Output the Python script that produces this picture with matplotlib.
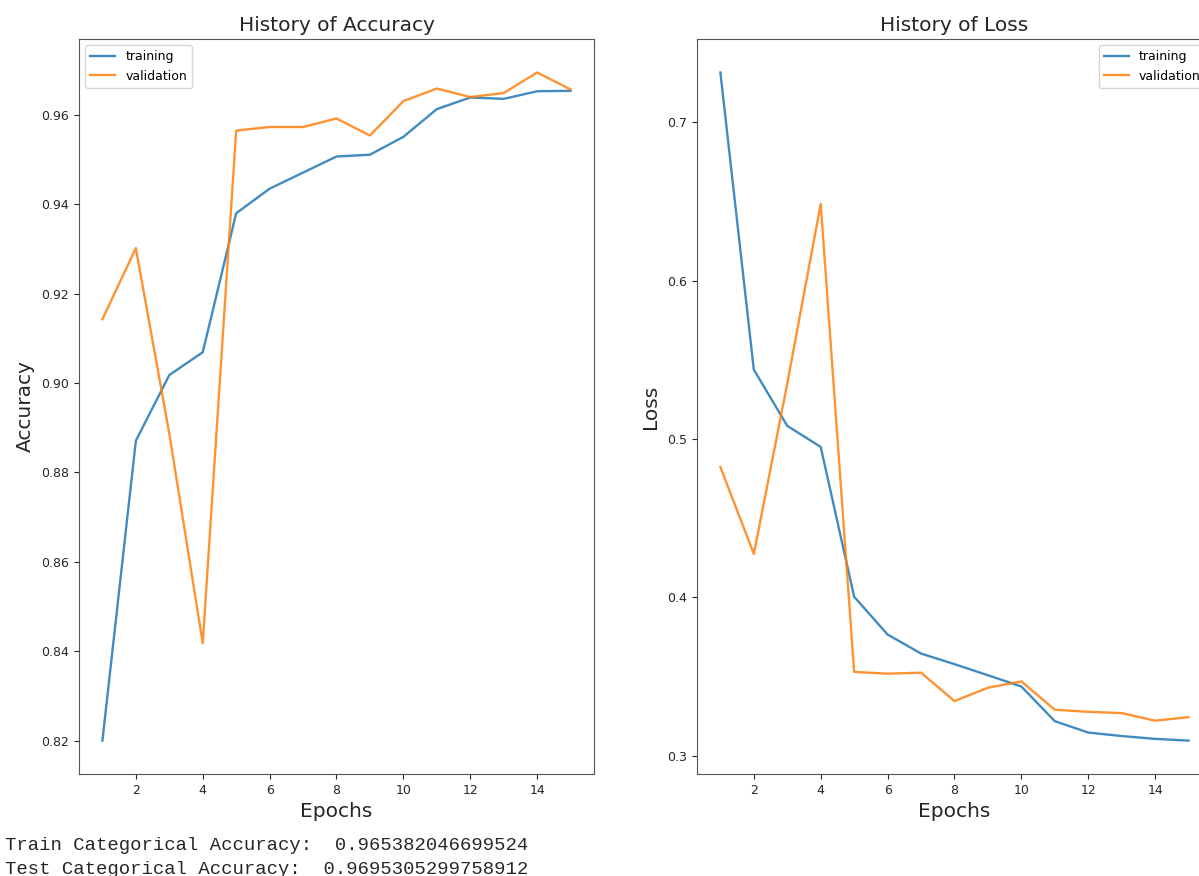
import matplotlib
matplotlib.use('Agg')
import matplotlib.pyplot as plt

epochs = list(range(1, 16))

acc_train = [0.8200, 0.8871, 0.9018, 0.9069, 0.9380, 0.9435, 0.9471, 0.9507,
             0.9511, 0.9551, 0.9613, 0.9639, 0.9636, 0.9653, 0.9654]
acc_val = [0.9143, 0.9302, 0.8887, 0.8418, 0.9565, 0.9573, 0.9573, 0.9592,
           0.9554, 0.9631, 0.9659, 0.9640, 0.9649, 0.9695, 0.9657]

loss_train = [0.7315, 0.5438, 0.5083, 0.4950, 0.4004, 0.3765, 0.3645, 0.3578,
              0.3508, 0.3437, 0.3218, 0.3146, 0.3124, 0.3106, 0.3095]
loss_val = [0.4823, 0.4274, 0.5350, 0.6485, 0.3529, 0.3518, 0.3524, 0.3345,
            0.3429, 0.3469, 0.3290, 0.3277, 0.3269, 0.3221, 0.3243]

train_acc_text = 'Train Categorical Accuracy:  0.965382046699524'
test_acc_text = 'Test Categorical Accuracy:  0.9695305299758912'

blue = '#1f77b4'
orange = '#ff7f0e'
text_col = '#262626'
spine_col = '#555555'

fig = plt.figure(figsize=(11.99, 8.76), dpi=100)
ax1 = fig.add_axes([0.0659, 0.1164, 0.4295, 0.8390])
ax2 = fig.add_axes([0.5813, 0.1164, 0.4295, 0.8390])


def draw(ax, train, val, title, ylabel, legend_loc):
    ax.plot(epochs, train, color=blue, lw=1.7, alpha=0.85, label='training')
    ax.plot(epochs, val, color=orange, lw=1.7, alpha=0.85, label='validation')
    ax.set_title(title, fontsize=14.5, color=text_col)
    ax.set_xlabel('Epochs', fontsize=14.5, color=text_col)
    ax.set_ylabel(ylabel, fontsize=14.5, color=text_col, labelpad=5)
    ax.tick_params(labelsize=9, colors=text_col)
    for sp in ax.spines.values():
        sp.set_color(spine_col)
    ax.legend(loc=legend_loc, fontsize=9)


draw(ax1, acc_train, acc_val, 'History of Accuracy', 'Accuracy', 'upper left')
draw(ax2, loss_train, loss_val, 'History of Loss', 'Loss', 'upper right')

fig.text(5 / 1199, 1 - 850 / 876, train_acc_text, family='Liberation Mono',
         fontsize=13.6, color=text_col, va='baseline')
fig.text(5 / 1199, 1 - 874 / 876, test_acc_text, family='Liberation Mono',
         fontsize=13.6, color=text_col, va='baseline')

fig.savefig('out.png', dpi=100)
